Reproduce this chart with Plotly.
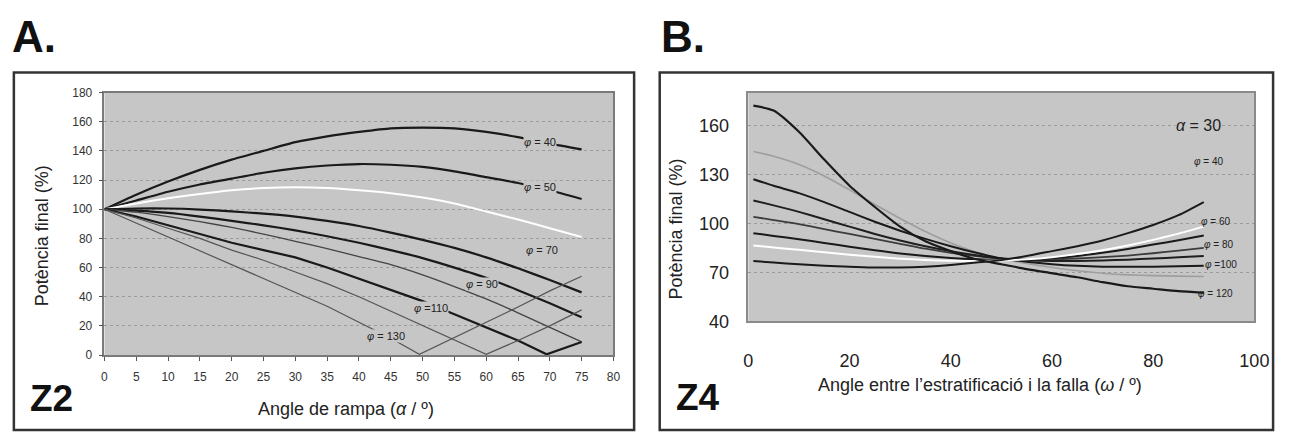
import plotly.graph_objects as go

# ---------------- Panel A data (Z2): Potència final (%) vs angle de rampa ----------------
alpha_A = [0, 5, 10, 15, 20, 25, 30, 35, 40, 45, 50, 55, 60, 65, 70, 75]
phi40_A = [100, 110, 119, 127, 134, 140, 146, 150, 153, 155.5, 156, 155.5, 153, 149.5, 145, 141]
phi50_A = [100, 106, 112, 117, 121, 125, 128, 130, 131, 130.5, 129, 126, 122, 118, 113, 107]
phi60_A = [100, 104, 107.5, 110.5, 113, 114.5, 115, 114.5, 113, 111, 108, 104, 98.5, 93, 87, 81]
phi70_A = [100, 100.5, 100.5, 99.8, 98.5, 97, 95, 92, 88.5, 84, 79, 73.5, 67, 59.5, 51.5, 43]
phi90_A = [100, 99, 97.5, 95, 92, 89, 85.5, 81.5, 77, 72, 66.5, 60, 53, 44.5, 35.5, 26]
phi100_A = [100, 98, 95, 91.5, 87.5, 83, 78, 73, 67.5, 62, 55, 47, 38.5, 29, 19, 9]
alpha110_A = [0, 5, 10, 15, 20, 25, 30, 35, 40, 45, 50, 55, 60, 65, 69.5, 75]
phi110_A = [100, 95, 89, 83, 77, 72, 67, 60, 52.5, 45, 37, 28, 19, 10, 0.5, 9]
alpha120_A = [0, 5, 10, 15, 20, 25, 30, 35, 40, 45, 50, 55, 60, 65, 70, 75]
phi120_A = [100, 94, 87, 80, 72, 65, 57, 49, 40, 30, 20, 10, 0.5, 10, 20, 31]
alpha130_A = [0, 5, 10, 15, 20, 25, 30, 35, 40, 45, 49.5, 55, 60, 65, 70, 75]
phi130_A = [100, 90.5, 81, 71.5, 62, 52.5, 43.5, 33.5, 22.5, 11.5, 0.5, 12, 23, 33, 44, 54]

xticks_A = list(range(0, 81, 5))
yticks_A = list(range(0, 181, 20))

# ---------------- Panel B data (Z4): Potència final (%) vs omega ----------------
omega_B = [1, 5, 10, 15, 20, 25, 30, 35, 40, 45, 50, 55, 60, 65, 70, 75, 80, 85, 90]
c1_B = [172, 169, 156, 139, 123, 110, 98, 89, 83, 78, 75, 72, 69.5, 67, 64, 61.5, 60, 58.5, 57.5]
c2_B = [144, 141, 136, 129, 120.5, 111.5, 103, 95, 88, 82.5, 78.5, 75.5, 73, 71, 69.5, 68.5, 68, 67.7, 67.5]
c3_B = [127, 123, 118.5, 113, 107, 101, 95.5, 90.5, 86, 82, 78.5, 76.5, 75, 74, 73.5, 73.5, 73.5, 73.7, 74]
c4_B = [114, 111, 107, 102.5, 98, 93.5, 89.5, 86, 83, 80.5, 78.5, 77.5, 77, 77, 77.3, 77.8, 78.5, 79.2, 80]
c5_B = [104, 102, 99.5, 96.5, 93.5, 90.5, 87.5, 84.5, 82, 80, 78.5, 78, 78, 78.5, 79.3, 80.3, 81.7, 83.3, 85]
c6_B = [94, 92.3, 90.3, 88, 85.7, 83.5, 81.5, 80, 78.8, 78, 77.6, 77.8, 78.6, 80, 82, 84.3, 87, 89.7, 92.5]
c7_B = [86.5, 85.2, 83.8, 82.3, 80.8, 79.5, 78.4, 77.6, 77.1, 77, 77.3, 78, 79.3, 81.2, 83.6, 86.5, 89.9, 93.7, 98]
c8_B = [77, 76, 75, 74, 73.5, 73, 73, 73.5, 74.5, 76, 77.5, 80, 83, 86, 89.5, 94, 99, 105, 113]

xticks_B = [0, 20, 40, 60, 80, 100]
yticks_B = [40, 70, 100, 130, 160]

W, H = 1293, 442
FONT = "Liberation Sans, Arial, sans-serif"
BG = "#c6c6c6"


def fx(p):
    return p / W


def fy(p):
    return 1 - p / H


fig = go.Figure()


def add(x, y, color, width, xa, ya, shape="spline"):
    line = dict(color=color, width=width, shape=shape)
    if shape == "spline":
        line["smoothing"] = 0.6
    fig.add_trace(go.Scatter(x=x, y=y, mode="lines", line=line, xaxis=xa, yaxis=ya,
                             showlegend=False, hoverinfo="skip"))


# Panel A
add(alpha_A, phi40_A, "#1a1a1a", 2.2, "x", "y")
add(alpha_A, phi50_A, "#1a1a1a", 2.2, "x", "y")
add(alpha_A, phi60_A, "#ffffff", 2.0, "x", "y")
add(alpha_A, phi70_A, "#1a1a1a", 2.2, "x", "y")
add(alpha_A, phi90_A, "#1a1a1a", 2.2, "x", "y")
add(alpha_A, phi100_A, "#444444", 1.3, "x", "y")
add(alpha110_A, phi110_A, "#1a1a1a", 2.2, "x", "y", "linear")
add(alpha120_A, phi120_A, "#555555", 1.2, "x", "y", "linear")
add(alpha130_A, phi130_A, "#555555", 1.2, "x", "y", "linear")

# Panel B
add(omega_B, c2_B, "#9e9e9e", 1.6, "x2", "y2")
add(omega_B, c5_B, "#3c3c3c", 1.8, "x2", "y2")
add(omega_B, c4_B, "#1f1f1f", 2.0, "x2", "y2")
add(omega_B, c3_B, "#1a1a1a", 2.0, "x2", "y2")
add(omega_B, c6_B, "#1a1a1a", 2.0, "x2", "y2")
add(omega_B, c7_B, "#ffffff", 2.0, "x2", "y2")
add(omega_B, c8_B, "#1a1a1a", 2.0, "x2", "y2")
add(omega_B, c1_B, "#1a1a1a", 2.2, "x2", "y2")

tickfA = dict(family=FONT, size=12, color="#333333")
tickfB = dict(family=FONT, size=18, color="#222222")

fig.update_layout(
    width=W, height=H,
    margin=dict(l=0, r=0, t=0, b=0),
    paper_bgcolor="white",
    plot_bgcolor=BG,
    xaxis=dict(domain=[fx(101), fx(618)], range=[0, 80], tickvals=xticks_A, ticks="outside",
               ticklen=4, tickcolor="#555555", showline=True, linecolor="#7a7a7a", linewidth=1.5,
               mirror=True, showgrid=False, zeroline=False, tickfont=tickfA, anchor="y",
               ticklabelstandoff=6),
    yaxis=dict(domain=[fy(362), fy(89)], range=[0, 180], tickvals=yticks_A, ticks="outside",
               ticklen=4, tickcolor="#555555", showline=True, linecolor="#7a7a7a", linewidth=1.5,
               mirror=True, showgrid=True, gridcolor="#9a9a9a", griddash="dot", gridwidth=1,
               zeroline=False, tickfont=tickfA, anchor="x", ticklabelstandoff=4),
    xaxis2=dict(domain=[fx(755), fx(1269)], range=[0, 100], tickvals=xticks_B, ticks="",
                showline=True, linecolor="#8a8a8a", linewidth=1.5, mirror=True, showgrid=False,
                zeroline=False, tickfont=tickfB, anchor="y2", ticklabelstandoff=22),
    yaxis2=dict(domain=[fy(327), fy(89)], range=[40, 180], tickvals=yticks_B, ticks="",
                showline=True, linecolor="#8a8a8a", linewidth=1.5, mirror=True, showgrid=True,
                gridcolor="#9a9a9a", griddash="dot", gridwidth=1, zeroline=False,
                tickfont=tickfB, anchor="x2", ticklabelstandoff=14),
)

# Outer frames
fig.add_shape(type="rect", xref="paper", yref="paper", x0=fx(9), x1=fx(639), y0=fy(440), y1=fy(68),
              line=dict(color="#333333", width=2.5), layer="below")
fig.add_shape(type="rect", xref="paper", yref="paper", x0=fx(665), x1=fx(1288), y0=fy(440), y1=fy(68),
              line=dict(color="#333333", width=2.5), layer="below")


def ann(text, x, y, size, bold=False, color="#111111", angle=0, xref="paper", yref="paper",
        bg=None, xanchor="center"):
    t = "<b>%s</b>" % text if bold else text
    kw = dict(text=t, x=x, y=y, xref=xref, yref=yref, showarrow=False, textangle=angle,
              font=dict(family=FONT, size=size, color=color), xanchor=xanchor, yanchor="middle")
    if bg:
        kw["bgcolor"] = bg
        kw["borderpad"] = 0
    fig.add_annotation(**kw)


# Panel letters and zone labels
ann("A.", fx(29), fy(31), 44, bold=True)
ann("B.", fx(689), fy(31), 44, bold=True)
ann("Z2", fx(47), fy(407), 37, bold=True)
ann("Z4", fx(704), fy(406), 37, bold=True)

# Axis titles
ann("Potència final (%)", fx(37), fy(238), 18, color="#222222", angle=-90)
ann("Angle de rampa (<i>α</i> / º)", fx(346), fy(418), 18, color="#222222")
ann("Potència final (%)", fx(682), fy(231), 18, color="#222222", angle=-90)
ann("Angle entre l’estratificació i la falla (<i>ω</i> / º)", fx(990), fy(393), 18, color="#222222")

# Panel A curve labels (in data coordinates)
labA = [("<i>φ</i> = 40", 68.4, 146, True), ("<i>φ</i> = 50", 68.4, 115, True),
        ("<i>φ</i> = 70", 68.7, 72, False), ("<i>φ</i> = 90", 59.4, 49, True),
        ("<i>φ</i> =110", 51.4, 32, True), ("<i>φ</i> = 130", 44.2, 13, True)]
for t, x, y, mask in labA:
    ann(t, x, y, 11, color="#222222", xref="x", yref="y", bg=BG if mask else None)

# Panel B labels
ann("<i>α</i> = 30", 88.9, 160, 16, color="#222222", xref="x2", yref="y2", bg=BG)
labB = [("<i>φ</i> = 40", 91, 138), ("<i>φ</i> = 60", 92.4, 101), ("<i>φ</i> = 80", 93, 87),
        ("<i>φ</i> =100", 93.4, 74.7), ("<i>φ</i> = 120", 92.4, 57)]
for t, x, y in labB:
    ann(t, x, y, 10, color="#222222", xref="x2", yref="y2")

fig.write_html("out.html")
